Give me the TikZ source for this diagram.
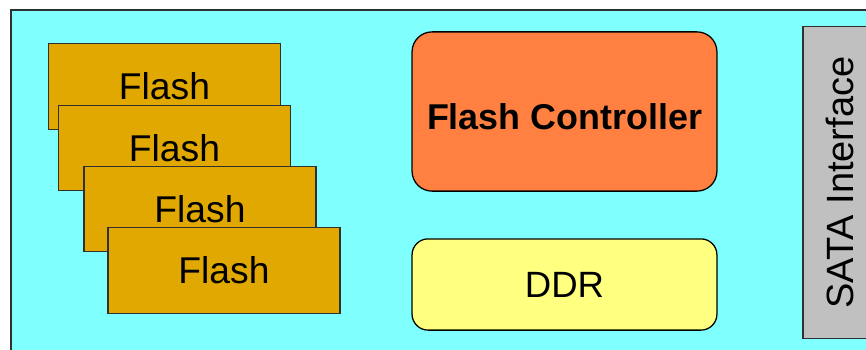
\documentclass[tikz,border=0pt]{standalone}
\usepackage{fontspec}
\setmainfont{Liberation Sans}
\definecolor{boardcyan}{HTML}{80FFFF}
\definecolor{flashgold}{HTML}{E0A800}
\definecolor{ctrlorange}{HTML}{FF8040}
\definecolor{ddryellow}{HTML}{FFFF80}
\definecolor{satagray}{HTML}{C0C0C0}
\definecolor{edgegray}{HTML}{303030}
\begin{document}
\begin{tikzpicture}[
  x=0.025cm, y=-0.025cm,
  chip/.style={rectangle,draw=edgegray,line width=0.8pt,fill=flashgold,
    minimum width=5.8cm,minimum height=2.13cm,inner sep=0pt,
    font=\fontsize{26.5}{30}\selectfont},
  block/.style={rectangle,rounded corners=0.5cm,draw=black,line width=0.9pt,
    minimum width=7.62cm,inner sep=0pt},
  port/.style={rectangle,draw=edgegray,line width=0.8pt,fill=satagray,
    rotate=90,minimum width=7.78cm,minimum height=1.85cm,inner sep=0pt,
    font=\fontsize{27}{30}\selectfont}
]
\useasboundingbox (0,0) rectangle (866,349);
% board
\draw[draw=edgegray,line width=0.9pt,fill=boardcyan] (11,10) rectangle (880,360);
% flash stack, back to front
\node[chip] (flash1) at (164.5,86.5) {Flash};
\node[chip] (flash2) at (174.5,148) {Flash};
\node[chip] (flash3) at (200,209) {Flash};
\node[chip] (flash4) at (224,270.5) {Flash};
% controller and memory
\node[block,fill=ctrlorange,minimum height=3.98cm,text height=25.7pt,
  font=\fontsize{25.5}{30}\selectfont\bfseries] (ctrl) at (564.5,111.5) {Flash Controller};
\node[block,fill=ddryellow,rounded corners=0.4cm,minimum height=2.28cm,
  font=\fontsize{26}{30}\selectfont] (ddr) at (564.5,284.5) {DDR};
% host side
\node[port] (sata) at (840,182.5) {SATA Interface};
\end{tikzpicture}
\end{document}
